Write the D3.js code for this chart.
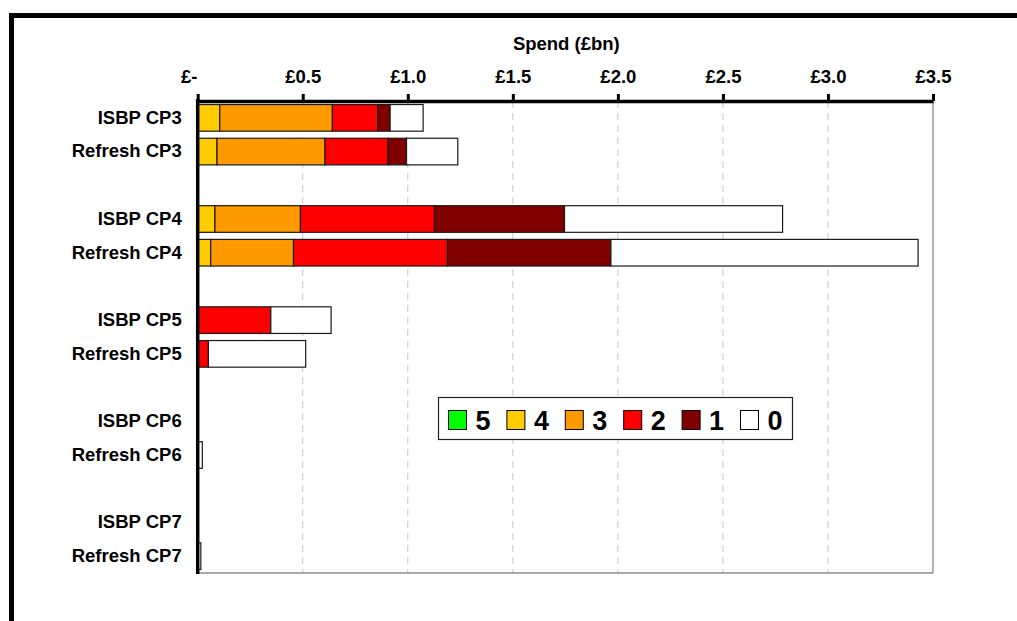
<!DOCTYPE html>
<html>
<head>
<meta charset="utf-8">
<script src="https://cdn.jsdelivr.net/npm/d3@7"></script>
<style>
  html, body { margin: 0; padding: 0; background: #fff; }
  svg { display: block; font-family: "Liberation Sans", Arial, sans-serif; }
</style>
</head>
<body>
<svg id="chart" width="1017" height="621"></svg>
<script>
// Rows of the chart, top to bottom; empty strings are spacer rows between control periods
const categories = [
  "ISBP CP3", "Refresh CP3", "",
  "ISBP CP4", "Refresh CP4", "",
  "ISBP CP5", "Refresh CP5", "",
  "ISBP CP6", "Refresh CP6", "",
  "ISBP CP7", "Refresh CP7"
];

// Condition-score bands, stacked left to right
const bands = ["5", "4", "3", "2", "1", "0"];
const bandColors = ["#00FF00", "#FFCC00", "#FF9900", "#FF0000", "#800000", "#FFFFFF"];

// Spend (£bn) per band, one array per row label
const score5 = [0,     0,     0,     0,     0,     0,     0,     0,     0, 0,     0,     0, 0, 0    ];
const score4 = [0.105, 0.092, 0,     0.082, 0.062, 0,     0,     0,     0, 0,     0,     0, 0, 0    ];
const score3 = [0.536, 0.514, 0,     0.407, 0.394, 0,     0,     0,     0, 0,     0,     0, 0, 0    ];
const score2 = [0.216, 0.300, 0,     0.638, 0.733, 0,     0.348, 0.051, 0, 0,     0,     0, 0, 0    ];
const score1 = [0.059, 0.088, 0,     0.619, 0.778, 0,     0,     0,     0, 0,     0,     0, 0, 0    ];
const score0 = [0.157, 0.244, 0,     1.038, 1.462, 0,     0.287, 0.463, 0, 0,     0.022, 0, 0, 0.015];

const xTicks = [0, 0.5, 1.0, 1.5, 2.0, 2.5, 3.0, 3.5];
const xTickLabels = ["£-", "£0.5", "£1.0", "£1.5", "£2.0", "£2.5", "£3.0", "£3.5"];
const axisTitle = "Spend (£bn)";

const svg = d3.select("#chart");
const labelFont = "18.5px";

// Outer chart frame (top and left edges fall inside the view)
svg.append("rect").attr("x", 9).attr("y", 13).attr("width", 1008).attr("height", 5).attr("fill", "#000");
svg.append("rect").attr("x", 9).attr("y", 13).attr("width", 5).attr("height", 608).attr("fill", "#000");

const plot = { left: 197.7, right: 933, top: 101, bottom: 573 };

const x = d3.scaleLinear().domain([0, 3.5]).range([plot.left, plot.right]);
const y = d3.scaleBand().domain(d3.range(categories.length)).range([plot.top, plot.bottom]).paddingInner(0.21).paddingOuter(0.105);

// Dashed vertical gridlines
svg.append("g")
  .selectAll("line")
  .data(xTicks.slice(1, -1))
  .join("line")
  .attr("x1", d => x(d)).attr("x2", d => x(d))
  .attr("y1", plot.top).attr("y2", plot.bottom)
  .attr("stroke", "#c8c8c8").attr("stroke-width", 1)
  .attr("stroke-dasharray", "7,5");

// Right and bottom plot border
svg.append("line").attr("x1", plot.right).attr("x2", plot.right)
  .attr("y1", plot.top).attr("y2", plot.bottom).attr("stroke", "#808080").attr("stroke-width", 1.2);
svg.append("line").attr("x1", plot.left).attr("x2", plot.right)
  .attr("y1", plot.bottom).attr("y2", plot.bottom).attr("stroke", "#555").attr("stroke-width", 1.2);

// Stacked bars
const rows = categories.map((c, i) => ({
  i, "5": score5[i], "4": score4[i], "3": score3[i], "2": score2[i], "1": score1[i], "0": score0[i]
}));
const stacked = d3.stack().keys(bands)(rows);

svg.append("g")
  .selectAll("g")
  .data(stacked)
  .join("g")
  .attr("fill", (d, k) => bandColors[k])
  .selectAll("rect")
  .data(d => d.filter(s => s[1] - s[0] > 0))
  .join("rect")
  .attr("x", s => x(s[0]))
  .attr("width", s => x(s[1]) - x(s[0]))
  .attr("y", s => y(s.data.i))
  .attr("height", y.bandwidth())
  .attr("stroke", "#1a1a1a").attr("stroke-width", 1.2);

// Top value axis
const xAxis = d3.axisTop(x).tickValues(xTicks).tickFormat((d, i) => xTickLabels[i]).tickSize(7).tickSizeOuter(0).tickPadding(11);
const gx = svg.append("g").attr("transform", `translate(0,${plot.top})`).call(xAxis);
gx.select(".domain").attr("stroke", "#000").attr("stroke-width", 3.5);
gx.selectAll(".tick line").attr("stroke", "#000").attr("stroke-width", 3);
gx.selectAll(".tick text")
  .attr("fill", "#000").attr("font-size", labelFont).attr("font-weight", "bold")
  .attr("font-family", "'Liberation Sans', Arial, sans-serif")
  .attr("dx", d => d === 0 ? -9 : 0);

svg.append("text")
  .attr("x", (plot.left + plot.right) / 2 + 1).attr("y", 49.5)
  .attr("text-anchor", "middle")
  .attr("font-size", labelFont).attr("font-weight", "bold")
  .text(axisTitle);

// Category axis on the left
const yAxis = d3.axisLeft(y).tickFormat(i => categories[i]).tickSize(0).tickPadding(16);
const gy = svg.append("g").attr("transform", `translate(${plot.left},0)`).call(yAxis);
gy.select(".domain").remove();
gy.selectAll(".tick text")
  .attr("fill", "#000").attr("font-size", labelFont).attr("font-weight", "bold")
  .attr("font-family", "'Liberation Sans', Arial, sans-serif");
svg.append("line").attr("x1", plot.left).attr("x2", plot.left)
  .attr("y1", plot.top - 2).attr("y2", plot.bottom + 1)
  .attr("stroke", "#000").attr("stroke-width", 3.5);

// Legend
const legend = svg.append("g").attr("transform", "translate(438.5,397.5)");
legend.append("rect").attr("width", 354).attr("height", 42)
  .attr("fill", "#fff").attr("stroke", "#222").attr("stroke-width", 1.2);
const item = legend.selectAll("g.item").data(bands).join("g")
  .attr("class", "item")
  .attr("transform", (d, k) => `translate(${10 + k * 58.4},13)`);
item.append("rect").attr("width", 18).attr("height", 19)
  .attr("fill", (d, k) => bandColors[k]).attr("stroke", "#000").attr("stroke-width", 1);
item.append("text").attr("x", 27).attr("y", 19)
  .attr("font-size", "27px").attr("font-weight", "bold").attr("fill", "#000")
  .text(d => d);
</script>
</body>
</html>
